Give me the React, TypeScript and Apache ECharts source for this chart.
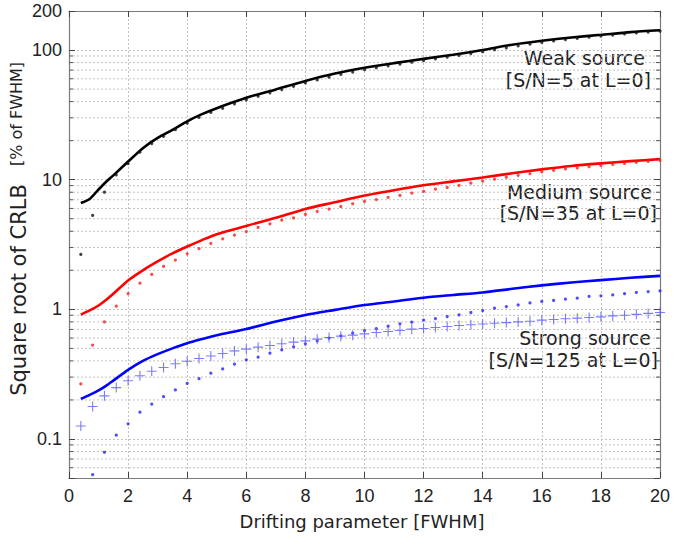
import React, { useEffect, useRef } from 'react';
import * as echarts from 'echarts';

// x positions of the sampled markers (dots and pluses)
const xDots = [0.4, 0.8, 1.2, 1.6, 2.0, 2.4, 2.8, 3.2, 3.6, 4.0, 4.4, 4.8, 5.2, 5.6, 6.0, 6.4, 6.8, 7.2, 7.6, 8.0,
  8.4, 8.8, 9.2, 9.6, 10.0, 10.4, 10.8, 11.2, 11.6, 12.0, 12.4, 12.8, 13.2, 13.6, 14.0, 14.4, 14.8, 15.2, 15.6, 16.0,
  16.4, 16.8, 17.2, 17.6, 18.0, 18.4, 18.8, 19.2, 19.6, 20.0];

const weakDots = [2.65, 5.3, 8.0, 10.9, 13.3, 16.3, 19.0, 21.6, 24.3, 27.3, 30.2, 33.0, 35.5, 38.5, 41.3, 44.0, 46.8, 49.5, 52.5, 55.7,
  58.8, 61.8, 64.8, 67.6, 70.5, 73.0, 75.5, 78.0, 80.5, 83.0, 85.6, 88.2, 91.0, 94.0, 97.0, 100.5, 104.0, 107.5, 111.0, 114.5,
  117.5, 120.5, 123.0, 125.5, 128.0, 130.5, 133.0, 135.5, 137.5, 140.0];

const mediumDots = [0.266, 0.53, 0.80, 1.06, 1.32, 1.59, 1.86, 2.14, 2.40, 2.68, 2.94, 3.22, 3.50, 3.74, 3.98, 4.28, 4.57, 4.88, 5.08, 5.39,
  5.69, 5.93, 6.21, 6.52, 6.79, 7.03, 7.29, 7.56, 7.88, 8.11, 8.46, 8.71, 9.05, 9.4, 9.75, 10.1, 10.45, 10.8, 11.15, 11.5,
  11.8, 12.1, 12.35, 12.6, 12.85, 13.1, 13.35, 13.6, 13.85, 14.1];

const strongDots = [null, 0.053, 0.079, 0.107, 0.131, 0.161, 0.186, 0.212, 0.239, 0.268, 0.292, 0.322, 0.347, 0.378, 0.408, 0.428, 0.459, 0.487, 0.514, 0.542,
  0.571, 0.600, 0.625, 0.655, 0.686, 0.711, 0.742, 0.773, 0.796, 0.826, 0.849, 0.880, 0.907, 0.945, 0.979, 1.02, 1.05, 1.08, 1.12, 1.15,
  1.17, 1.20, 1.22, 1.26, 1.27, 1.29, 1.32, 1.35, 1.37, 1.39];

const strongPlus = [0.126, 0.178, 0.215, 0.249, 0.281, 0.307, 0.333, 0.356, 0.380, 0.398, 0.417, 0.437, 0.456, 0.478, 0.493, 0.511, 0.526, 0.542, 0.558, 0.571,
  0.589, 0.606, 0.621, 0.632, 0.647, 0.662, 0.674, 0.686, 0.703, 0.711, 0.724, 0.737, 0.75, 0.76, 0.77, 0.78, 0.79, 0.80, 0.81, 0.825,
  0.835, 0.845, 0.855, 0.865, 0.875, 0.89, 0.90, 0.915, 0.93, 0.945];

// x positions of the solid curves
const xLine = [0.4, 0.7, 1.0, 1.25, 1.5, 2, 2.5, 3, 3.5, 4, 4.5, 5, 6, 7, 8, 9, 10, 11, 12, 13, 14, 15, 16, 17, 18, 19, 20];
const weakLine = [6.6, 7.1, 8.4, 9.6, 10.8, 13.8, 17.5, 21.0, 24.2, 28.2, 32.0, 35.6, 42.8, 49.7, 57.7, 65.8, 72.9, 79.2, 85.5, 92.0, 100.0, 110.0, 118.0, 125.0, 131.0, 137.5, 142.0];
const mediumLine = [0.91, 0.98, 1.07, 1.18, 1.32, 1.67, 2.0, 2.34, 2.70, 3.05, 3.42, 3.80, 4.40, 5.08, 5.95, 6.70, 7.55, 8.30, 9.05, 9.7, 10.4, 11.2, 12.0, 12.75, 13.35, 13.9, 14.4];
const strongLine = [0.204, 0.219, 0.237, 0.257, 0.282, 0.341, 0.40, 0.451, 0.50, 0.548, 0.59, 0.632, 0.705, 0.805, 0.905, 0.99, 1.08, 1.15, 1.23, 1.29, 1.35, 1.44, 1.53, 1.61, 1.68, 1.75, 1.81];

// minor (2..9 x decade) grid values of the log axis
const minorValues = [0.06, 0.07, 0.08, 0.09, 0.2, 0.3, 0.4, 0.5, 0.6, 0.7, 0.8, 0.9, 2, 3, 4, 5, 6, 7, 8, 9, 20, 30, 40, 50, 60, 70, 80, 90];
const yLabelValues = [0.1, 1, 10, 100, 200];

const X_MIN = 0;
const X_MAX = 20;
const Y_MIN = 0.05;
const Y_MAX = 200;

const plusPath = 'path://M4.45,0 h1.1 v4.45 h4.45 v1.1 h-4.45 v4.45 h-1.1 v-4.45 h-4.45 v-1.1 h4.45 z';

function pairs(xs: number[], ys: (number | null)[]) {
  return xs.map((x, i) => [x, ys[i] == null ? null : ys[i]]).filter((p) => p[1] != null);
}

export default function App() {
  const ref = useRef<HTMLDivElement>(null);
  useEffect(() => {
    if (!ref.current) return;
    const chart = echarts.init(ref.current, undefined, { renderer: 'svg' });
    const gridColor = '#c2c2c2';
    const frameColor = '#7a7a7a';
    const labelFont = 'Liberation Sans, Arial, sans-serif';
    const annoFont = 'DejaVu Sans, sans-serif';

    const lineStyleBase = { width: 2.6 };

    const annotation = (text: string, right: number, y: number) => ({
      type: 'text',
      x: right,
      y,
      silent: true,
      style: {
        text,
        fill: '#222',
        font: `19px ${annoFont}`,
        textAlign: 'right',
        textVerticalAlign: 'middle',
      },
    });

    const curve = (name: string, ys: number[], color: string) => ({
      type: 'line', name, data: pairs(xLine, ys), smooth: 0.25, showSymbol: false,
      lineStyle: { ...lineStyleBase, color }, itemStyle: { color }, z: 3,
    });

    chart.setOption({
      animation: false,
      backgroundColor: '#fff',
      grid: { left: 69, right: 11, top: 11, bottom: 61, containLabel: false },
      xAxis: [
        {
          type: 'value',
          min: X_MIN,
          max: X_MAX,
          interval: 2,
          position: 'bottom',
          axisLine: { show: true, onZero: false, lineStyle: { color: frameColor, width: 1.2 } },
          axisTick: { show: true, inside: true, length: 6, lineStyle: { color: '#444' } },
          axisLabel: { show: true, margin: 9, fontSize: 18, color: '#222', fontFamily: labelFont },
          splitLine: { show: true, lineStyle: { color: gridColor, type: [2, 2], width: 1 } },
        },
        {
          type: 'value',
          min: X_MIN,
          max: X_MAX,
          interval: 2,
          position: 'top',
          axisLine: { show: true, onZero: false, lineStyle: { color: frameColor, width: 1.2 } },
          axisTick: { show: true, inside: true, length: 6, lineStyle: { color: '#444' } },
          axisLabel: { show: false },
          splitLine: { show: false },
        },
      ],
      yAxis: [
        {
          type: 'log',
          logBase: 10,
          min: Y_MIN,
          max: Y_MAX,
          position: 'left',
          axisLine: { show: true, onZero: false, lineStyle: { color: frameColor, width: 1.2 } },
          axisTick: { show: true, inside: true, length: 6, lineStyle: { color: '#444' } },
          axisLabel: {
            show: true,
            margin: 7,
            fontSize: 18,
            color: '#222',
            fontFamily: labelFont,
            formatter: (v: number) => {
              const hit = yLabelValues.find((t) => Math.abs(Math.log10(v) - Math.log10(t)) < 1e-6);
              return hit == null ? '' : String(hit);
            },
          },
          splitLine: { show: true, lineStyle: { color: gridColor, type: [2, 2], width: 1 } },
        },
        {
          type: 'log',
          logBase: 10,
          min: Y_MIN,
          max: Y_MAX,
          position: 'right',
          axisLine: { show: true, onZero: false, lineStyle: { color: frameColor, width: 1.2 } },
          axisTick: { show: true, inside: true, length: 6, lineStyle: { color: '#444' } },
          axisLabel: { show: false },
          splitLine: { show: false },
        },
      ],
      series: [
        {
          type: 'custom',
          name: 'minor',
          silent: true,
          z: 1,
          xAxisIndex: 0,
          yAxisIndex: 0,
          data: minorValues.map((v) => [X_MIN, v]),
          renderItem: (params: any, api: any) => {
            const v = api.value(1);
            const a = api.coord([X_MIN, v]);
            const b = api.coord([X_MAX, v]);
            return {
              type: 'group',
              children: [
                { type: 'line', shape: { x1: a[0], y1: a[1], x2: b[0], y2: b[1] }, style: { stroke: gridColor, lineWidth: 1, lineDash: [2, 2] } },
                { type: 'line', shape: { x1: a[0], y1: a[1], x2: a[0] + 4, y2: a[1] }, style: { stroke: '#555', lineWidth: 1 } },
                { type: 'line', shape: { x1: b[0] - 4, y1: b[1], x2: b[0], y2: b[1] }, style: { stroke: '#555', lineWidth: 1 } },
              ],
            };
          },
        },
        curve('Weak source', weakLine, '#000'),
        curve('Medium source', mediumLine, '#ff0000'),
        curve('Strong source', strongLine, '#0000ff'),
        {
          type: 'scatter', name: 'Weak dots', data: pairs(xDots, weakDots), symbol: 'circle', symbolSize: 3.2,
          itemStyle: { color: '#111' }, z: 4,
        },
        {
          type: 'scatter', name: 'Medium dots', data: pairs(xDots, mediumDots), symbol: 'circle', symbolSize: 3.2,
          itemStyle: { color: '#ff1a1a' }, z: 4,
        },
        {
          type: 'scatter', name: 'Strong dots', data: pairs(xDots, strongDots), symbol: 'circle', symbolSize: 3.2,
          itemStyle: { color: '#2020ff' }, z: 4,
        },
        {
          type: 'scatter', name: 'Strong plus', data: pairs(xDots, strongPlus), symbol: plusPath, symbolSize: 10,
          itemStyle: { color: '#5a5aff' }, z: 4,
        },
      ],
      graphic: [
        annotation('Weak source', 645, 58),
        annotation('[S/N=5 at L=0]', 651, 80),
        annotation('Medium source', 652, 192),
        annotation('[S/N=35 at L=0]', 657, 213),
        annotation('Strong source', 651, 338),
        annotation('[S/N=125 at L=0]', 658, 360),
        {
          type: 'text', x: 362, y: 521, silent: true,
          style: { text: 'Drifting parameter [FWHM]', fill: '#222', font: `18px ${annoFont}`, textAlign: 'center', textVerticalAlign: 'middle' },
        },
        {
          type: 'text', x: 19, y: 290, rotation: Math.PI / 2, silent: true,
          style: { text: 'Square root of CRLB', fill: '#222', font: `21px ${annoFont}`, textAlign: 'center', textVerticalAlign: 'middle' },
        },
        {
          type: 'text', x: 16, y: 114, rotation: Math.PI / 2, silent: true,
          style: { text: '[% of FWHM]', fill: '#222', font: `16px ${annoFont}`, textAlign: 'center', textVerticalAlign: 'middle' },
        },
      ],
    });
    return () => chart.dispose();
  }, []);
  return <div ref={ref} style={{ position: 'fixed', left: 0, top: 0, width: 673, height: 539, background: '#fff' }} />;
}
